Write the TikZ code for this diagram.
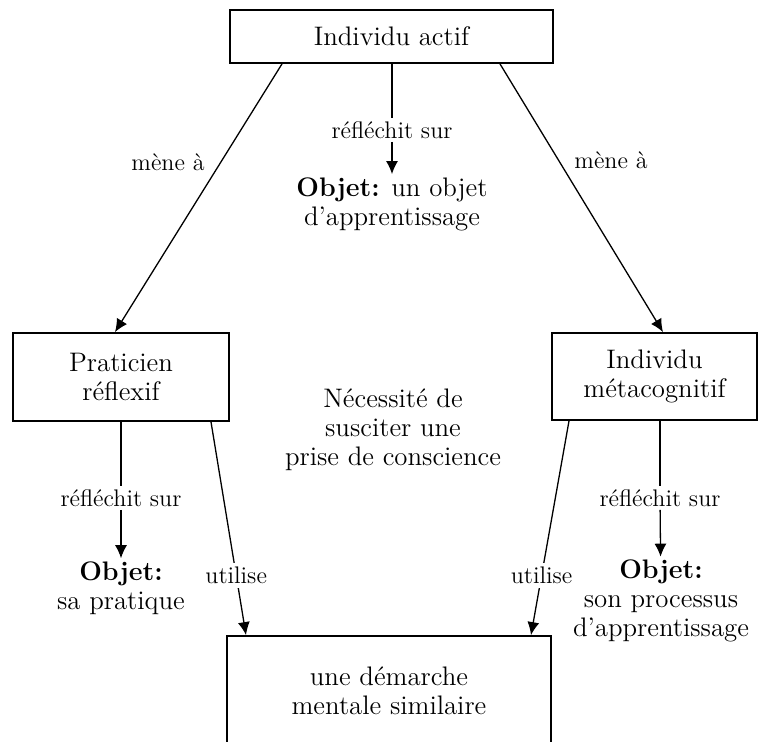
\documentclass[tikz,border=0pt]{standalone}
\usetikzlibrary{arrows.meta,calc}
\begin{document}
\begin{tikzpicture}[x=0.5pt,y=-0.5pt,
  every node/.style={font=\fontsize{13.4}{14.4}\selectfont, align=center},
  boxnode/.style={draw, line width=0.9pt, inner sep=0pt},
  conn/.style={line width=0.65pt},
  arr/.style={conn, -{Latex[length=6.5pt,width=6pt]}},
  lbl/.style={inner sep=1.5pt, font=\fontsize{12}{14}\selectfont},
  objnode/.style={inner sep=1.5pt},
  cut/.style={fill=white, inner sep=2pt, font=\fontsize{12}{14}\selectfont}]
\useasboundingbox (0,0) rectangle (759,742);
\clip (0,0) rectangle (759,742);

% boxes
\node[boxnode, minimum width=161.5pt, minimum height=26.5pt] (top) at (391.5,36.5) {Individu actif};
\node[boxnode, minimum width=108pt, minimum height=44pt] (pr) at (121,377) {Praticien\\réflexif};
\node[boxnode, minimum width=102.5pt, minimum height=43.5pt] (meta) at (654.5,376.5) {Individu\\métacognitif};
\node[boxnode, minimum width=162pt, minimum height=55pt] (bot) at (389,691) {une démarche\\mentale similaire};

% texts
\node[lbl] (r1) at (392,130) {réfléchit sur};
\node[objnode] (o1) at (392,204) {\textbf{Objet:} un objet\\d’apprentissage};
\node[lbl] (r2) at (121,498) {réfléchit sur};
\node[objnode] (o2) at (121,588) {\textbf{Objet:}\\sa pratique};
\node[lbl] (r3) at (660,498) {réfléchit sur};
\node[objnode] (o3) at (661,601) {\textbf{Objet:}\\son processus\\d’apprentissage};
\node (nec) at (393,430) {Nécessité de\\susciter une\\prise de conscience};
\node[lbl] (m1) at (168,162) {mène à};
\node[lbl] (m2) at (611,160) {mène à};

% connectors
\draw[conn] (top.south -| r1) -- (r1);
\draw[arr] (r1) -- (o1);
\draw[arr] ($(top.south)+(-109.5,0)$) -- ($(pr.north)+(-6,0)$);
\draw[arr] ($(top.south)+(108.5,0)$) -- ($(meta.north)+(8.5,0)$);
\draw[conn] (pr.south -| r2) -- (r2);
\draw[arr] (r2) -- (o2);
\draw[conn] (meta.south -| r3) -- (r3);
\draw[arr] (r3) -- (o3);
\draw[arr] ($(pr.south)+(90,0)$) -- node[cut, pos=0.72] (u1) {utilise} ($(bot.north)+(-143,0)$);
\draw[arr] ($(meta.south)+(-85.5,0)$) -- node[cut, pos=0.72] (u2) {utilise} ($(bot.north)+(142,0)$);
\end{tikzpicture}
\end{document}
